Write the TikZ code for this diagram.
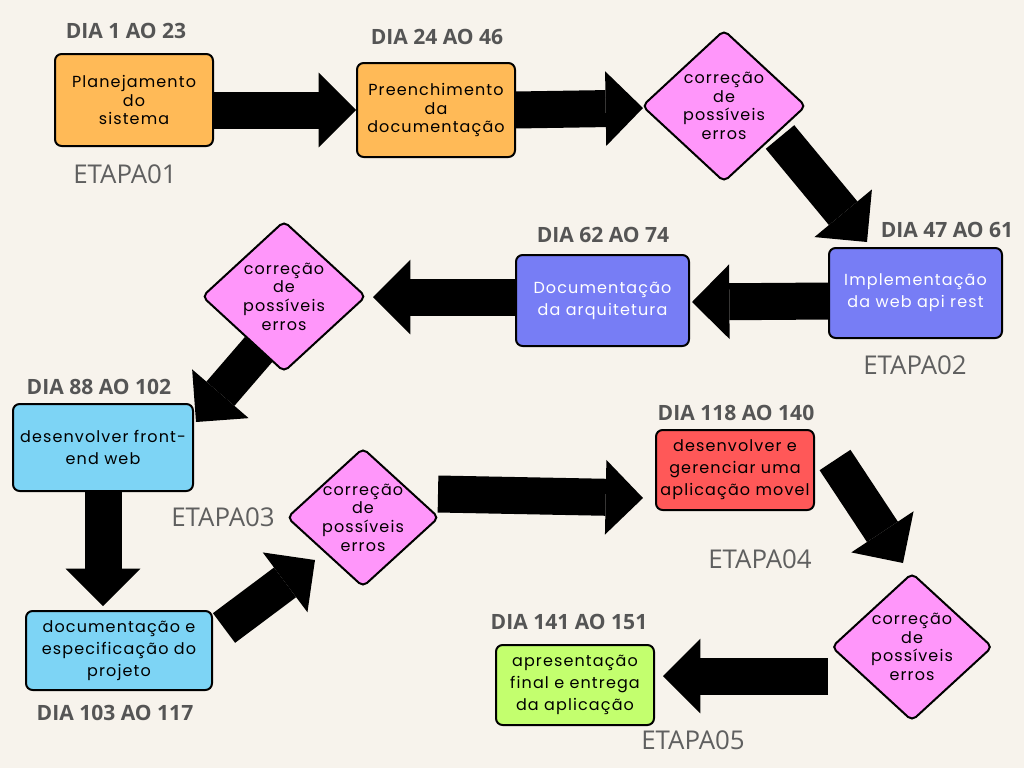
\documentclass[tikz,border=0pt]{standalone}
\usepackage{fontspec}
\setmainfont{Open Sans}
\newfontfamily\boxfont{Poppins}[LetterSpace=7]
\usetikzlibrary{arrows.meta,shapes.geometric}
\definecolor{bgc}{RGB}{247,243,236}
\definecolor{orangebox}{RGB}{255,186,87}
\definecolor{pinkbox}{RGB}{255,150,250}
\definecolor{bluebox}{RGB}{119,125,245}
\definecolor{lbluebox}{RGB}{125,212,245}
\definecolor{redbox}{RGB}{255,88,88}
\definecolor{greenbox}{RGB}{195,255,110}
\definecolor{daygray}{RGB}{85,85,85}
\definecolor{etapagray}{RGB}{95,95,95}
\pgfdeclarelayer{bglayer}
\pgfdeclarelayer{arrowlayer}
\pgfsetlayers{bglayer,arrowlayer,main}
\setlength{\lineskiplimit}{-20pt}
\begin{document}
\begin{tikzpicture}[x=0.75pt,y=-0.75pt,
  box/.style={draw=black, line width=1.5pt, rounded corners=5pt, inner sep=0pt,
    align=center, font=\boxfont\fontsize{12pt}{16.5pt}\selectfont},
  tightbox/.style={box, font=\boxfont\fontsize{12pt}{13.6pt}\selectfont},
  dia/.style={diamond, draw=black, line width=1.5pt, rounded corners=4pt, inner sep=0pt, fill=pinkbox},
  diatext/.style={align=center, inner sep=0pt, font=\boxfont\fontsize{12pt}{14pt}\selectfont},
  day/.style={inner sep=0pt, text=daygray, font=\bfseries\fontsize{15.8pt}{18pt}\selectfont},
  etapa/.style={inner sep=0pt, text=etapagray, font=\fontsize{19.4pt}{22pt}\selectfont},
  fat/.style={draw=black, line width=27.75pt, -{Triangle[width=56pt,length=28pt,line width=0pt]}}
]
\begin{pgfonlayer}{bglayer}
\fill[bgc] (0,0) rectangle (1024,768);
\end{pgfonlayer}
\useasboundingbox (0,0) rectangle (1024,768);

% boxes
\node[tightbox, fill=orangebox, minimum width=118.5pt, minimum height=69pt] (b1) at (134,100) {Planejamento\\do\\sistema};
\node[tightbox, fill=orangebox, minimum width=118.5pt, minimum height=70.5pt] (b2) at (436,110) {Preenchimento\\da\\documentação};
\node[dia, minimum width=123pt, minimum height=114pt] (d1) at (724,106) {};
\node[diatext] at (d1.center) {correção\\de\\possíveis\\erros};
\node[box, fill=bluebox, text=white, minimum width=129.75pt, minimum height=67.5pt] (b3) at (915.5,293) {Implementação\\da web api rest};
\node[box, fill=bluebox, text=white, minimum width=129.75pt, minimum height=68.25pt] (b4) at (602.5,300.5) {Documentação\\da arquitetura};
\node[dia, minimum width=123pt, minimum height=113.25pt] (d2) at (284,296.5) {};
\node[diatext] at (d2.center) {correção\\de\\possíveis\\erros};
\node[box, fill=lbluebox, minimum width=135pt, minimum height=65.25pt] (b5) at (103,447.5) {desenvolver front-\\end web};
\node[box, fill=lbluebox, minimum width=139.5pt, minimum height=59.25pt] (b6) at (119,650.5) {documentação e\\especificação do\\projeto};
\node[dia, minimum width=114pt, minimum height=104.25pt] (d3) at (363,517.5) {};
\node[diatext] at (d3.center) {correção\\de\\possíveis\\erros};
\node[box, fill=redbox, minimum width=118.5pt, minimum height=60pt] (b7) at (735,470) {desenvolver e\\gerenciar uma\\aplicação movel};
\node[dia, minimum width=120.75pt, minimum height=111pt] (d4) at (912,647) {};
\node[diatext] at (d4.center) {correção\\de\\possíveis\\erros};
\node[box, fill=greenbox, minimum width=118.5pt, minimum height=60pt] (b8) at (575,685) {apresentação\\final e entrega\\da aplicação};

% day labels
\node[day] (l1) at (126,31) {DIA 1 AO 23};
\node[day] (l2) at (437,37) {DIA 24 AO 46};
\node[day] (l3) at (947,230) {DIA 47 AO 61};
\node[day] (l4) at (603,235) {DIA 62 AO 74};
\node[day] (l5) at (99,387) {DIA 88 AO 102};
\node[day] (l6) at (115,713) {DIA 103 AO 117};
\node[day] (l7) at (736,413) {DIA 118 AO 140};
\node[day] (l8) at (569,622) {DIA 141 AO 151};

% stage labels
\node[etapa] (e1) at (125,174) {ETAPA01};
\node[etapa] (e2) at (915,365) {ETAPA02};
\node[etapa] (e3) at (223,517) {ETAPA03};
\node[etapa] (e4) at (760,559) {ETAPA04};
\node[etapa] (e5) at (693,740) {ETAPA05};

% arrow end points
\coordinate (a1s) at (213,110);
\coordinate (a1e) at (356,110);
\coordinate (a2s) at (515,110);
\coordinate (a2e) at (643,108);
\coordinate (a3s) at (780,137);
\coordinate (a3e) at (867,242);
\coordinate (a4s) at (829,301);
\coordinate (a4e) at (692,302);
\coordinate (a5s) at (516,297);
\coordinate (a5e) at (373,297);
\coordinate (a6s) at (259,349);
\coordinate (a6e) at (196,422);
\coordinate (a7s) at (103,491);
\coordinate (a7e) at (103,606);
\coordinate (a8s) at (224,628);
\coordinate (a8e) at (315,560);
\coordinate (a9s) at (438,494);
\coordinate (a9e) at (643,498);
\coordinate (a10s) at (835,460);
\coordinate (a10e) at (903,563);
\coordinate (a11s) at (828,676);
\coordinate (a11e) at (663,676);

\begin{pgfonlayer}{arrowlayer}
\draw[fat] (a1s) -- (a1e);
\draw[fat] (a2s) -- (a2e);
\draw[fat] (a3s) -- (a3e);
\draw[fat] (a4s) -- (a4e);
\draw[fat] (a5s) -- (a5e);
\draw[fat] (a6s) -- (a6e);
\draw[fat] (a7s) -- (a7e);
\draw[fat] (a8s) -- (a8e);
\draw[fat] (a9s) -- (a9e);
\draw[fat] (a10s) -- (a10e);
\draw[fat] (a11s) -- (a11e);
\end{pgfonlayer}
\end{tikzpicture}
\end{document}
